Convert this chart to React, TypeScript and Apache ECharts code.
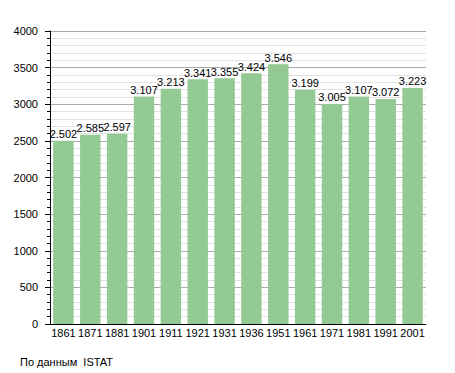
import React, { useEffect, useRef } from "react";
import * as echarts from "echarts";

const years = ["1861", "1871", "1881", "1901", "1911", "1921", "1931", "1936", "1951", "1961", "1971", "1981", "1991", "2001"];
const population = [2502, 2585, 2597, 3107, 3213, 3341, 3355, 3424, 3546, 3199, 3005, 3107, 3072, 3223];
const sourceText = "По данным  ISTAT";

const fmt = (v: number) => {
  const s = String(v);
  return s.length > 3 ? s.slice(0, s.length - 3) + "." + s.slice(-3) : s;
};

export default function App() {
  const ref = useRef<HTMLDivElement>(null);
  useEffect(() => {
    if (!ref.current) return;
    const chart = echarts.init(ref.current, null, { renderer: "svg" });
    const font = "'Liberation Sans', Arial, sans-serif";
    chart.setOption({
      animation: false,
      backgroundColor: "#ffffff",
      grid: { left: 50, right: 29, top: 31, bottom: 49, containLabel: false },
      xAxis: {
        type: "category",
        data: years,
        axisLine: { show: true, lineStyle: { color: "#000", width: 1 } },
        axisTick: { show: false },
        axisLabel: { color: "#000", fontSize: 11, fontFamily: font, margin: 3, interval: 0 },
        splitLine: { show: false },
      },
      yAxis: {
        type: "value",
        min: 0,
        max: 4000,
        interval: 500,
        axisLine: { show: true, lineStyle: { color: "#000", width: 1 } },
        axisTick: { show: true, length: 5, lineStyle: { color: "#000" } },
        minorTick: { show: true, splitNumber: 5, length: 3, lineStyle: { color: "#000" } },
        axisLabel: { color: "#000", fontSize: 11, fontFamily: font, margin: 12, formatter: (v: number) => String(v) },
        splitLine: { show: true, lineStyle: { color: "#aaaaaa", width: 1 } },
        minorSplitLine: { show: true, lineStyle: { color: "#e2e2e2", width: 1 } },
      },
      series: [
        {
          type: "bar",
          data: population,
          barCategoryGap: "24%",
          itemStyle: { color: "#93c993" },
          label: {
            show: true,
            position: "top",
            distance: 1,
            color: "#000",
            fontSize: 11,
            fontFamily: font,
            formatter: (p: any) => fmt(p.value),
          },
        },
      ],
      graphic: [
        {
          type: "text",
          left: 20,
          top: 356,
          style: { text: sourceText, fontSize: 11, fontFamily: font, fill: "#000" },
        },
      ],
    });
    return () => chart.dispose();
  }, []);
  return <div ref={ref} style={{ width: 455, height: 373, position: "absolute", left: 0, top: 0 }} />;
}
